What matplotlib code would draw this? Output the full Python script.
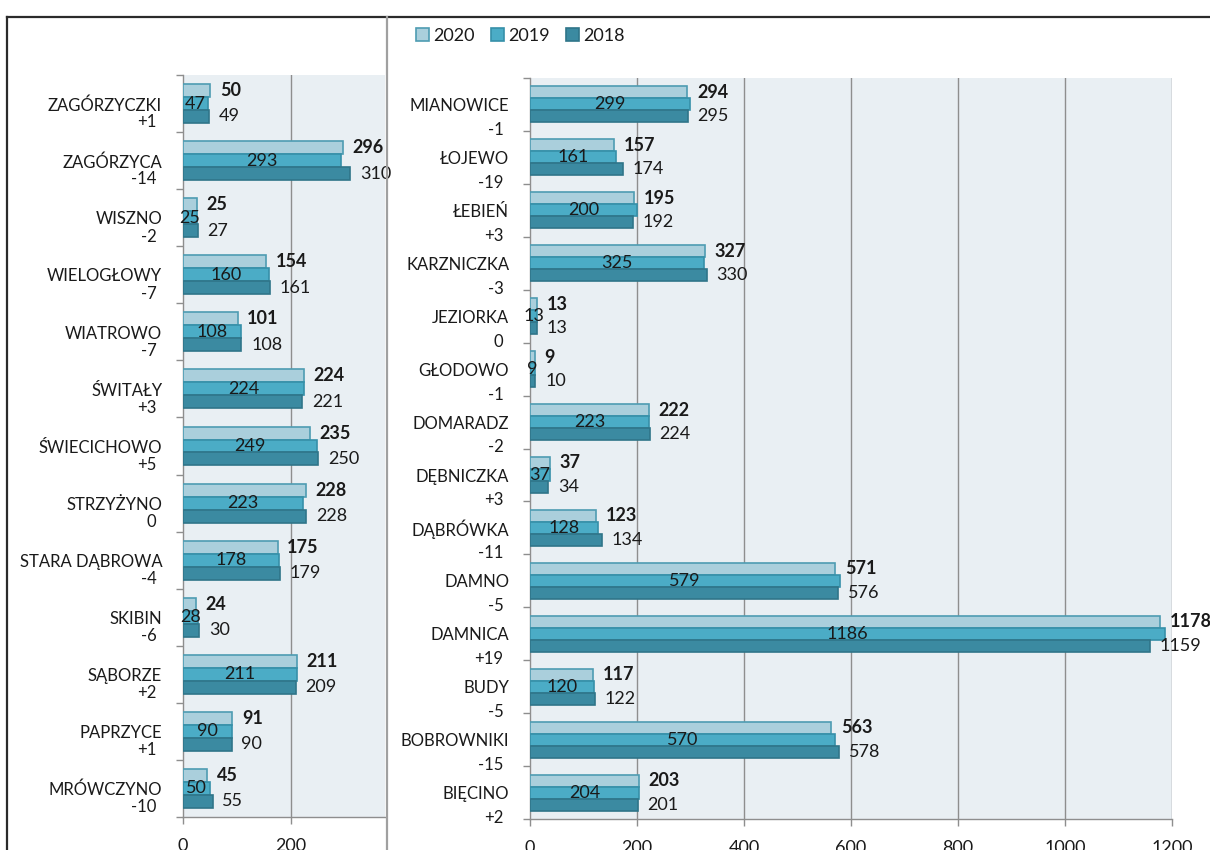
import matplotlib
matplotlib.use("Agg")
import matplotlib.pyplot as plt
import numpy as np
from matplotlib.lines import Line2D
from matplotlib.patches import Patch

plt.rcParams["font.family"] = ["Lato", "DejaVu Sans"]

YEARS = ["2020", "2019", "2018"]

LEFT_NAMES = ["ZAGÓRZYCZKI", "ZAGÓRZYCA", "WISZNO", "WIELOGŁOWY", "WIATROWO",
              "ŚWITAŁY", "ŚWIECICHOWO", "STRZYŻYNO", "STARA DĄBROWA", "SKIBIN",
              "SĄBORZE", "PAPRZYCE", "MRÓWCZYNO"]
LEFT_DIFF = ["+1", "-14", "-2", "-7", "-7", "+3", "+5", "0", "-4", "-6", "+2", "+1", "-10"]
LEFT_2020 = [50, 296, 25, 154, 101, 224, 235, 228, 175, 24, 211, 91, 45]
LEFT_2019 = [47, 293, 25, 160, 108, 224, 249, 223, 178, 28, 211, 90, 50]
LEFT_2018 = [49, 310, 27, 161, 108, 221, 250, 228, 179, 30, 209, 90, 55]

RIGHT_NAMES = ["MIANOWICE", "ŁOJEWO", "ŁEBIEŃ", "KARZNICZKA", "JEZIORKA", "GŁODOWO",
               "DOMARADZ", "DĘBNICZKA", "DĄBRÓWKA", "DAMNO", "DAMNICA", "BUDY",
               "BOBROWNIKI", "BIĘCINO"]
RIGHT_DIFF = ["-1", "-19", "+3", "-3", "0", "-1", "-2", "+3", "-11", "-5", "+19", "-5", "-15", "+2"]
RIGHT_2020 = [294, 157, 195, 327, 13, 9, 222, 37, 123, 571, 1178, 117, 563, 203]
RIGHT_2019 = [299, 161, 200, 325, 13, 9, 223, 37, 128, 579, 1186, 120, 570, 204]
RIGHT_2018 = [295, 174, 192, 330, 13, 10, 224, 34, 134, 576, 1159, 122, 578, 201]

FACE = ["#AACFDC", "#4BACC6", "#3B8AA1"]
EDGE = ["#4E9CB2", "#3690A9", "#2F7589"]
BG = "#E9EFF3"
GRID = "#8E8E8E"
TXT = "#1A1A1A"
FS_NAME = 12
FS_NUM = 13
H = 0.227


def draw_panel(ax, names, diffs, v20, v19, v18, xmax, xticks, diff_off):
    n = len(names)
    y = np.arange(n)
    ax.set_facecolor(BG)
    for k, (vals, dy) in enumerate([(v20, -H), (v19, 0), (v18, H)]):
        ax.barh(y + dy, vals, height=H, color=FACE[k], edgecolor=EDGE[k],
                linewidth=1.2, zorder=3)
    for i in range(n):
        ax.annotate(str(v20[i]), (v20[i], i - H), xytext=(7, 0),
                    textcoords="offset points", ha="left", va="center",
                    fontsize=FS_NUM, fontweight="bold", color=TXT, zorder=5)
        ax.text(v19[i] / 2, i, str(v19[i]), ha="center", va="center",
                fontsize=FS_NUM, color=TXT, zorder=5)
        ax.annotate(str(v18[i]), (v18[i], i + H), xytext=(7, 0),
                    textcoords="offset points", ha="left", va="center",
                    fontsize=FS_NUM, color=TXT, zorder=5)
        ax.annotate(names[i], (0, i + 0.03), xycoords=("axes fraction", "data"),
                    xytext=(-15, 0), textcoords="offset points",
                    ha="right", va="center", fontsize=FS_NAME, color=TXT)
        ax.annotate(diffs[i], (0, i + diff_off), xycoords=("axes fraction", "data"),
                    xytext=(-19, 0), textcoords="offset points",
                    ha="right", va="center", fontsize=FS_NAME, color=TXT)
    ax.set_ylim(n - 0.5, -0.5)
    ax.set_xlim(0, xmax)
    ax.set_yticks(np.arange(n + 1) - 0.5)
    ax.set_yticklabels([])
    ax.set_xticks(xticks)
    ax.set_xticklabels([str(t) for t in xticks])
    ax.tick_params(axis="y", direction="out", length=5, color=GRID, width=1)
    ax.tick_params(axis="x", direction="out", length=5, color=GRID, width=1,
                   labelsize=FS_NUM, labelcolor=TXT, pad=10)
    for t in xticks[1:]:
        ax.axvline(t, color=GRID, lw=1, zorder=1)
    for s in ["top", "right"]:
        ax.spines[s].set_visible(False)
    for s in ["left", "bottom"]:
        ax.spines[s].set_color(GRID)
        ax.spines[s].set_linewidth(1)


fig = plt.figure(figsize=(12.1, 8.5), dpi=100)
W, Hf = 1210, 850

ax_l = fig.add_axes([183 / W, 1 - 817 / Hf, (385 - 183) / W, (817 - 75) / Hf])
draw_panel(ax_l, LEFT_NAMES, LEFT_DIFF, LEFT_2020, LEFT_2019, LEFT_2018,
           374, [0, 200], 0.33)

ax_r = fig.add_axes([530 / W, 1 - 819 / Hf, (1172 - 530) / W, (819 - 78) / Hf])
draw_panel(ax_r, RIGHT_NAMES, RIGHT_DIFF, RIGHT_2020, RIGHT_2019, RIGHT_2018,
           1200, [0, 200, 400, 600, 800, 1000, 1200], 0.48)

handles = [Patch(facecolor=FACE[k], edgecolor=EDGE[k], linewidth=1.2) for k in range(3)]
fig.legend(handles, YEARS, loc="center left", bbox_to_anchor=(400 / W, 1 - 36 / Hf),
           ncol=3, frameon=False, fontsize=FS_NUM, handlelength=0.7, handleheight=0.7,
           handletextpad=0.25, columnspacing=0.9, labelcolor=TXT)

# frame lines of the cropped chart
top = 1 - 17 / Hf
fig.add_artist(Line2D([7 / W, 1], [top, top], color="#2B2B2B", lw=1.6))
fig.add_artist(Line2D([7 / W, 7 / W], [0, top], color="#2B2B2B", lw=1.6))
fig.add_artist(Line2D([387 / W, 387 / W], [0, top], color="#A0A0A0", lw=1.6))

fig.savefig("out.png", dpi=100)
